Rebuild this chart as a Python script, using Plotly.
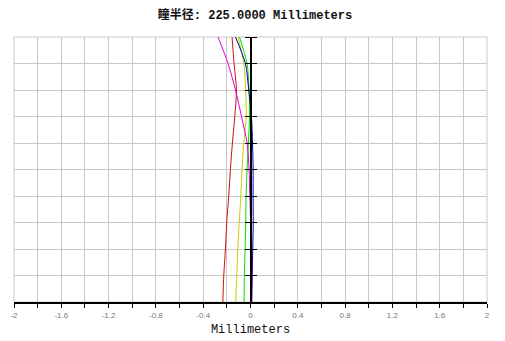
import plotly.graph_objects as go

# Relative pupil coordinate (0 = axis, 1 = edge of pupil)
pupil = [0.0, 0.1, 0.2, 0.3, 0.4, 0.5, 0.6, 0.7, 0.8, 0.9, 1.0]

# Longitudinal aberration (mm) per wavelength
red_mm     = [-0.234, -0.226, -0.212, -0.201, -0.184, -0.170, -0.153, -0.133, -0.119, -0.139, -0.156]
yellow_mm  = [-0.125, -0.116, -0.108, -0.095, -0.082, -0.071, -0.057, -0.036, -0.040, -0.057, -0.105]
green_mm   = [-0.054, -0.052, -0.046, -0.040, -0.037, -0.029, -0.018, -0.008, -0.012, -0.029, -0.093]
blue_mm    = [0.010, 0.015, 0.019, 0.023, 0.022, 0.022, 0.017, 0.008, -0.015, -0.043, -0.127]
magenta_mm = [0.010, 0.010, 0.008, 0.002, -0.006, -0.012, -0.029, -0.076, -0.127, -0.190, -0.274]

series = [
    ("red", red_mm, "#cc1010"),
    ("yellow", yellow_mm, "#cccc00"),
    ("green", green_mm, "#00dd00"),
    ("blue", blue_mm, "#0000b4"),
    ("magenta", magenta_mm, "#e000e0"),
]

x_tickvals = [-2, -1.6, -1.2, -0.8, -0.4, 0, 0.4, 0.8, 1.2, 1.6, 2]
x_ticktext = ["-2", "-1.6", "-1.2", "-0.8", "-0.4", "0", "0.4", "0.8", "1.2", "1.6", "2"]
y_tickvals = [0.0, 0.1, 0.2, 0.3, 0.4, 0.5, 0.6, 0.7, 0.8, 0.9, 1.0]

title_text = "<b>瞳半径: 225.0000 Millimeters</b>"
x_title = "Millimeters"

fig = go.Figure()
for name, vals, color in series:
    fig.add_trace(go.Scatter(
        x=vals, y=pupil, mode="lines", name=name,
        line=dict(color=color, width=1, shape="spline", smoothing=0.8),
        showlegend=False, hoverinfo="skip",
    ))

# invisible trace to activate the right-side tick set of the central axis
fig.add_trace(go.Scatter(x=[0], y=[0.5], yaxis="y2", mode="markers",
                         marker=dict(opacity=0), showlegend=False, hoverinfo="skip"))

grid_color = "#c8c8c8"
mono = "Liberation Mono, Courier New, Noto Sans CJK SC, monospace"

fig.update_layout(
    width=505, height=341,
    margin=dict(l=14, r=18, t=37, b=39, autoexpand=False),
    paper_bgcolor="white", plot_bgcolor="white",
    title=dict(text=title_text, x=0.505, xanchor="center", y=0.958, yanchor="middle",
               font=dict(family=mono, size=12, color="#111111")),
    xaxis=dict(
        range=[-2, 2], tickmode="array", tickvals=x_tickvals, ticktext=x_ticktext,
        showgrid=True, gridcolor=grid_color, gridwidth=1,
        ticks="outside", ticklen=4, tickcolor="black", tickwidth=1,
        showline=True, linecolor="black", linewidth=1.5,
        zeroline=False, automargin=False,
        minor=dict(dtick=0.2, tick0=0, showgrid=True, gridcolor=grid_color, gridwidth=1,
                   ticks="outside", ticklen=4, tickcolor="black"),
        tickfont=dict(family="Liberation Sans, Arial", size=8, color="#777777"),
        ticklabelstandoff=1,
        title=dict(text=x_title, standoff=5,
                   font=dict(family=mono, size=12, color="#111111")),
        fixedrange=True,
    ),
    yaxis=dict(
        range=[0, 1], tickmode="array", tickvals=y_tickvals, showticklabels=False,
        showgrid=True, gridcolor=grid_color, gridwidth=1,
        zeroline=False, automargin=False,
        anchor="free", position=0.5, side="left",
        showline=True, linecolor="black", linewidth=1.5,
        ticks="outside", ticklen=5, tickcolor="black", tickwidth=1,
        fixedrange=True,
    ),
    yaxis2=dict(
        range=[0, 1], tickmode="array", tickvals=y_tickvals, showticklabels=False,
        showgrid=False, zeroline=False, automargin=False,
        overlaying="y", anchor="free", position=0.5, side="right",
        showline=False,
        ticks="outside", ticklen=5, tickcolor="black", tickwidth=1,
        fixedrange=True,
    ),
    shapes=[dict(type="rect", xref="paper", yref="paper", x0=0, x1=1, y0=0, y1=1,
                 line=dict(color=grid_color, width=1), layer="below")],
)

fig.write_html("out.html")
